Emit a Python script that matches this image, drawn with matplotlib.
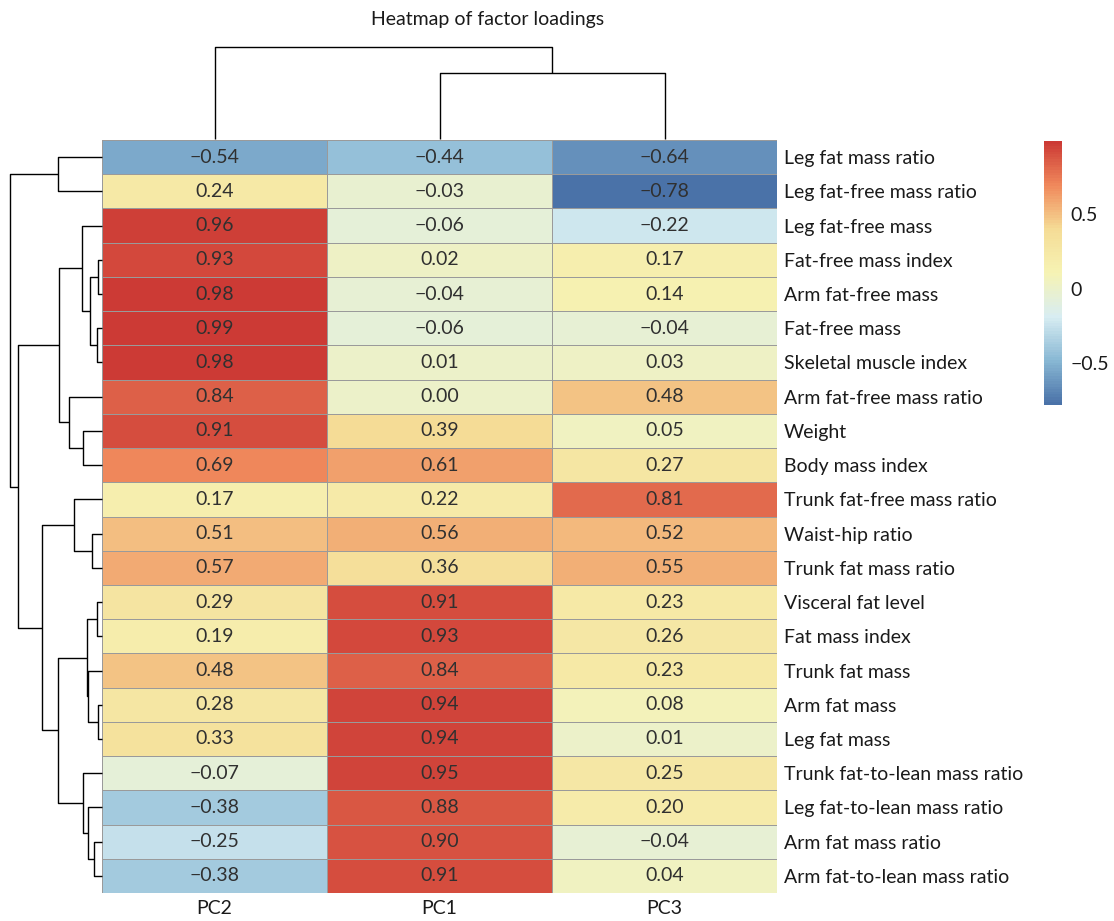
import matplotlib
matplotlib.use('Agg')

import numpy as np
import matplotlib.pyplot as plt
from matplotlib.colors import LinearSegmentedColormap, Normalize

plt.rcParams['font.family'] = ['Lato', 'DejaVu Sans']

title = "Heatmap of factor loadings"
columns = ["PC2", "PC1", "PC3"]
rows = [
    "Leg fat mass ratio",
    "Leg fat-free mass ratio",
    "Leg fat-free mass",
    "Fat-free mass index",
    "Arm fat-free mass",
    "Fat-free mass",
    "Skeletal muscle index",
    "Arm fat-free mass ratio",
    "Weight",
    "Body mass index",
    "Trunk fat-free mass ratio",
    "Waist-hip ratio",
    "Trunk fat mass ratio",
    "Visceral fat level",
    "Fat mass index",
    "Trunk fat mass",
    "Arm fat mass",
    "Leg fat mass",
    "Trunk fat-to-lean mass ratio",
    "Leg fat-to-lean mass ratio",
    "Arm fat mass ratio",
    "Arm fat-to-lean mass ratio",
]
pc2 = [-0.54, 0.24, 0.96, 0.93, 0.98, 0.99, 0.98, 0.84, 0.91, 0.69, 0.17,
       0.51, 0.57, 0.29, 0.19, 0.48, 0.28, 0.33, -0.07, -0.38, -0.25, -0.38]
pc1 = [-0.44, -0.03, -0.06, 0.02, -0.04, -0.06, 0.01, 0.00, 0.39, 0.61, 0.22,
       0.56, 0.36, 0.91, 0.93, 0.84, 0.94, 0.94, 0.95, 0.88, 0.90, 0.91]
pc3 = [-0.64, -0.78, -0.22, 0.17, 0.14, -0.04, 0.03, 0.48, 0.05, 0.27, 0.81,
       0.52, 0.55, 0.23, 0.26, 0.23, 0.08, 0.01, 0.25, 0.20, -0.04, 0.04]

values = np.column_stack([pc2, pc1, pc3])
nrow, ncol = values.shape

# reversed RdYlBu (7), slightly muted like the printed figure, 100 steps
palette = ['#4A72A8', '#89B8D4', '#D8EDF2', '#F6F3B4', '#F5DC96', '#F0895C', '#CC3A35']
cmap = LinearSegmentedColormap.from_list('rdylbu', palette, N=100)
norm = Normalize(vmin=values.min(), vmax=values.max())

FS = 14
W, H = 1114, 921
fig = plt.figure(figsize=(W / 100, H / 100), dpi=100)


def box(x0, y0, x1, y1):
    return [x0 / W, 1 - y1 / H, (x1 - x0) / W, (y1 - y0) / H]


def complete_linkage(X):
    n = len(X)
    D = np.sqrt(((X[:, None, :] - X[None, :, :]) ** 2).sum(-1))
    members = {i: [i] for i in range(n)}
    active = list(range(n))
    merges = []
    k = n
    while len(active) > 1:
        best = None
        for a in range(len(active)):
            for b in range(a + 1, len(active)):
                ca, cb = active[a], active[b]
                d = D[np.ix_(members[ca], members[cb])].max()
                if best is None or d < best[0]:
                    best = (d, ca, cb)
        d, ca, cb = best
        members[k] = members[ca] + members[cb]
        merges.append((ca, cb, d, k))
        active = [c for c in active if c not in (ca, cb)] + [k]
        k += 1
    return merges


def draw_dendro(ax, merges, n, side):
    pos = {i: i + 0.5 for i in range(n)}
    hgt = {i: 0.0 for i in range(n)}
    for a, b, d, k in merges:
        pos[k] = (pos[a] + pos[b]) / 2
        hgt[k] = d
        hs = [hgt[a], d, d, hgt[b]]
        ps = [pos[a], pos[a], pos[b], pos[b]]
        if side == 'left':
            ax.plot(hs, ps, color='black', lw=1.0, clip_on=False, solid_capstyle='butt')
        else:
            ax.plot(ps, hs, color='black', lw=1.0, clip_on=False, solid_capstyle='butt')
    ax.axis('off')
    return max(hgt.values())


# heatmap
ax = fig.add_axes(box(102, 140, 777, 893))
mesh = ax.pcolormesh(np.arange(ncol + 1), np.arange(nrow + 1), values,
                     cmap=cmap, norm=norm, edgecolors='#9A9A9A', linewidth=0.7)
ax.set_xlim(0, ncol)
ax.set_ylim(nrow, 0)
for i in range(nrow):
    for j in range(ncol):
        ax.text(j + 0.5, i + 0.5, f"{values[i, j]:.2f}".replace('-', '\u2212'),
                ha='center', va='center', color='#303030', fontsize=FS)
ax.yaxis.tick_right()
ax.set_yticks(np.arange(nrow) + 0.5)
ax.set_yticklabels(rows, fontsize=FS, color='#1A1A1A')
ax.set_xticks(np.arange(ncol) + 0.5)
ax.set_xticklabels(columns, fontsize=FS, color='#1A1A1A')
ax.tick_params(length=0, pad=5)
for s in ax.spines.values():
    s.set_visible(False)

# row dendrogram
axr = fig.add_axes(box(10, 140, 102, 893))
hmax = draw_dendro(axr, complete_linkage(values), nrow, 'left')
axr.set_xlim(hmax, 0)
axr.set_ylim(nrow, 0)

# column dendrogram
axc = fig.add_axes(box(102, 47.5, 777, 139))
hmax = draw_dendro(axc, complete_linkage(values.T), ncol, 'top')
axc.set_xlim(0, ncol)
axc.set_ylim(0, hmax)

# colour legend
cax = fig.add_axes(box(1044, 141, 1062, 405))
cb = fig.colorbar(mesh, cax=cax, ticks=[-0.5, 0, 0.5])
cb.outline.set_visible(False)
cb.set_ticklabels(['\u22120.5', '0', '0.5'])
cax.tick_params(length=0, pad=6, labelsize=FS, labelcolor='#1A1A1A')

fig.text(488 / W, 1 - 19 / H, title, ha='center', va='center', fontsize=FS, color='#1A1A1A')

plt.savefig('out.png', dpi=100)
